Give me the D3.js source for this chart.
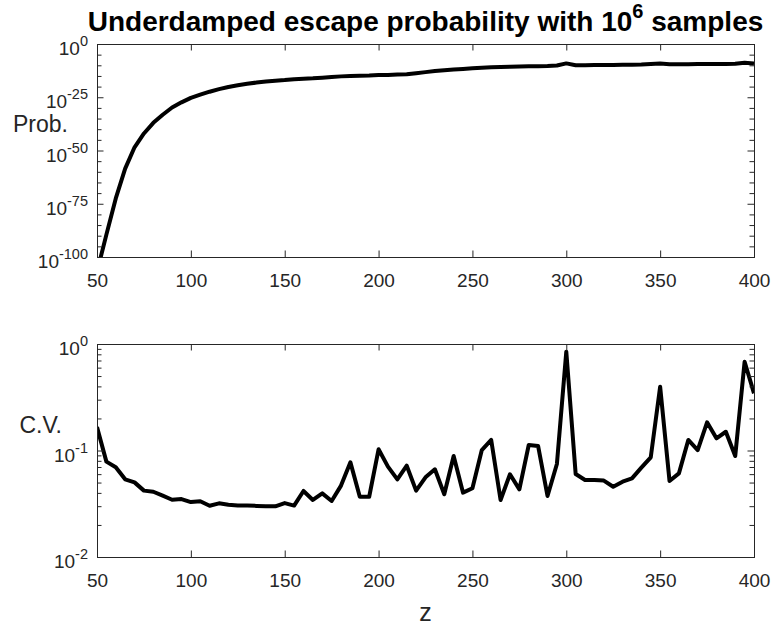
<!DOCTYPE html>
<html>
<head>
<meta charset="utf-8">
<script src="https://cdn.jsdelivr.net/npm/d3@7"></script>
<style>
  html, body { margin: 0; padding: 0; background: #fff; }
  svg { display: block; font-family: "Liberation Sans", Arial, Helvetica, sans-serif; }
</style>
</head>
<body>
<svg id="chart" width="771" height="627"></svg>
<script>
// Sample positions z (shared by both panels)
const zValues = d3.range(50, 401, 5);

// Escape probability, stored as base-10 exponents (one per z)
const probLog10 = [
  -107, -89.5, -72.5, -58.5, -48.5, -42, -37, -33.2, -29.8, -27.4,
  -25.3, -23.8, -22.4, -21.2, -20.2, -19.4, -18.7, -18.1, -17.6, -17.2,
  -16.9, -16.5, -16.3, -16.1, -15.8, -15.5, -15.2, -15.0, -14.9, -14.8,
  -14.6, -14.5, -14.35, -14.2, -13.7, -13.2, -12.7, -12.3, -12.0, -11.7,
  -11.4, -11.1, -10.9, -10.8, -10.7, -10.6, -10.5, -10.4, -10.3, -10.1,
  -9.1, -10.0, -9.95, -9.9, -9.9, -9.85, -9.8, -9.7, -9.6, -9.4,
  -9.2, -9.5, -9.45, -9.45, -9.4, -9.4, -9.4, -9.35, -9.3, -8.8,
  -9.2
];

// Coefficient of variation of the estimate (one per z)
const cvValues = [
  0.166, 0.0786, 0.0697, 0.0536, 0.0502, 0.042, 0.041, 0.0377, 0.0345, 0.035,
  0.0328, 0.0334, 0.0303, 0.0319, 0.031, 0.0304, 0.0304, 0.0302, 0.030, 0.0299,
  0.0321, 0.0304, 0.0417, 0.0343, 0.0396, 0.0336, 0.0468, 0.0774, 0.0368, 0.0368,
  0.1026, 0.0705, 0.0536, 0.072, 0.042, 0.056, 0.0666, 0.0388, 0.0887, 0.0402,
  0.0442, 0.101, 0.1256, 0.0343, 0.0598, 0.0432, 0.1127, 0.110, 0.0374, 0.0747,
  0.847, 0.0602, 0.0529, 0.0529, 0.0522, 0.0457, 0.051, 0.0548, 0.069, 0.0863,
  0.397, 0.0517, 0.061, 0.1256, 0.101, 0.184, 0.130, 0.150, 0.0887, 0.682,
  0.344
];

// Axis ticks
const xTicks = [50, 100, 150, 200, 250, 300, 350, 400];
const probMajorExp = [0, -25, -50, -75, -100];
const probMinorExp = d3.range(-100, 1, 5).filter(e => e % 25 !== 0);
const cvMajorExp = [0, -1, -2];
const cvMinor = [2, 3, 4, 5, 6, 7, 8, 9].flatMap(m => [m * 1e-2, m * 1e-1]);

const titleText = "Underdamped escape probability with 10";
const titleSup = "6";
const titleTail = " samples";

const svg = d3.select("#chart");
const axisColor = "#262626";
const left = 97, right = 754;

const x = d3.scaleLinear().domain([50, 400]).range([left, right]);

function drawPanel(cfg) {
  const { top, bottom, y, majors, minors, values, clipId } = cfg;
  const g = svg.append("g");

  // clip region for the data line
  svg.append("defs").append("clipPath").attr("id", clipId)
    .append("rect").attr("x", left).attr("y", top)
    .attr("width", right - left).attr("height", bottom - top);

  // data line
  const line = d3.line()
    .x((d, i) => x(zValues[i]))
    .y(d => y(d));
  g.append("path")
    .datum(values)
    .attr("clip-path", `url(#${clipId})`)
    .attr("fill", "none")
    .attr("stroke", "#000")
    .attr("stroke-width", 4)
    .attr("stroke-linejoin", "round")
    .attr("d", line);

  const major = 6.5, minor = 4.5;

  // x axes (bottom and top), ticks pointing inward
  const xb = g.append("g").attr("transform", `translate(0,${bottom})`)
    .call(d3.axisBottom(x).tickValues(xTicks).tickSize(-major).tickPadding(16 + major)
      .tickFormat(d3.format("d")));
  const xt = g.append("g").attr("transform", `translate(0,${top})`)
    .call(d3.axisTop(x).tickValues(xTicks).tickSize(-major).tickFormat(""));

  // y axes (left and right): major and minor ticks inward
  const yl = g.append("g").attr("transform", `translate(${left},0)`)
    .call(d3.axisLeft(y).tickValues(majors).tickSize(-major).tickFormat(""));
  const ylm = g.append("g").attr("transform", `translate(${left},0)`)
    .call(d3.axisLeft(y).tickValues(minors).tickSize(-minor).tickFormat(""));
  const yr = g.append("g").attr("transform", `translate(${right},0)`)
    .call(d3.axisRight(y).tickValues(majors).tickSize(-major).tickFormat(""));
  const yrm = g.append("g").attr("transform", `translate(${right},0)`)
    .call(d3.axisRight(y).tickValues(minors).tickSize(-minor).tickFormat(""));

  [xb, xt, yl, ylm, yr, yrm].forEach(a => {
    a.selectAll(".domain").attr("stroke", axisColor).attr("stroke-width", 1);
    a.selectAll(".tick line").attr("stroke", axisColor).attr("stroke-width", 1);
  });
  xb.selectAll(".tick text")
    .attr("fill", axisColor)
    .attr("font-size", 19)
    .attr("dy", 0);
  xb.selectAll(".tick text").attr("y", 30);

  // y tick labels with power-of-ten superscripts
  majors.forEach(v => {
    const e = Math.round(Math.log10(v));
    const t = g.append("text")
      .attr("x", left - 9)
      .attr("y", y(v) + 11)
      .attr("text-anchor", "end")
      .attr("fill", axisColor)
      .attr("font-size", 19);
    t.append("tspan").text("10");
    t.append("tspan").attr("dy", -9).attr("font-size", 14.5).text(String(e));
  });
  return g;
}

const yProb = d3.scaleLog().domain([1e-100, 1]).range([257, 44]);
drawPanel({
  top: 44, bottom: 257, y: yProb,
  majors: probMajorExp.map(e => Math.pow(10, e)),
  minors: probMinorExp.map(e => Math.pow(10, e)),
  values: probLog10.map(e => Math.pow(10, e)),
  clipId: "clipProb"
});

const yCv = d3.scaleLog().domain([1e-2, 1]).range([557, 344]);
drawPanel({
  top: 344, bottom: 557, y: yCv,
  majors: cvMajorExp.map(e => Math.pow(10, e)),
  minors: cvMinor,
  values: cvValues,
  clipId: "clipCv"
});

// Axis labels
svg.append("text").attr("x", 68).attr("y", 132).attr("text-anchor", "end")
  .attr("font-size", 23).attr("fill", axisColor).text("Prob.");
svg.append("text").attr("x", 62).attr("y", 433).attr("text-anchor", "end")
  .attr("font-size", 23).attr("fill", axisColor).text("C.V.");
svg.append("text").attr("x", (left + right) / 2).attr("y", 621).attr("text-anchor", "middle")
  .attr("font-size", 25).attr("fill", axisColor).text("z");

// Title
const title = svg.append("text")
  .attr("x", (left + right) / 2).attr("y", 31)
  .attr("text-anchor", "middle")
  .attr("font-size", 28).attr("font-weight", "bold").attr("fill", "#000");
title.append("tspan").text(titleText);
title.append("tspan").attr("dy", -13).attr("font-size", 20).text(titleSup);
title.append("tspan").attr("dy", 13).text(titleTail);
</script>
</body>
</html>
